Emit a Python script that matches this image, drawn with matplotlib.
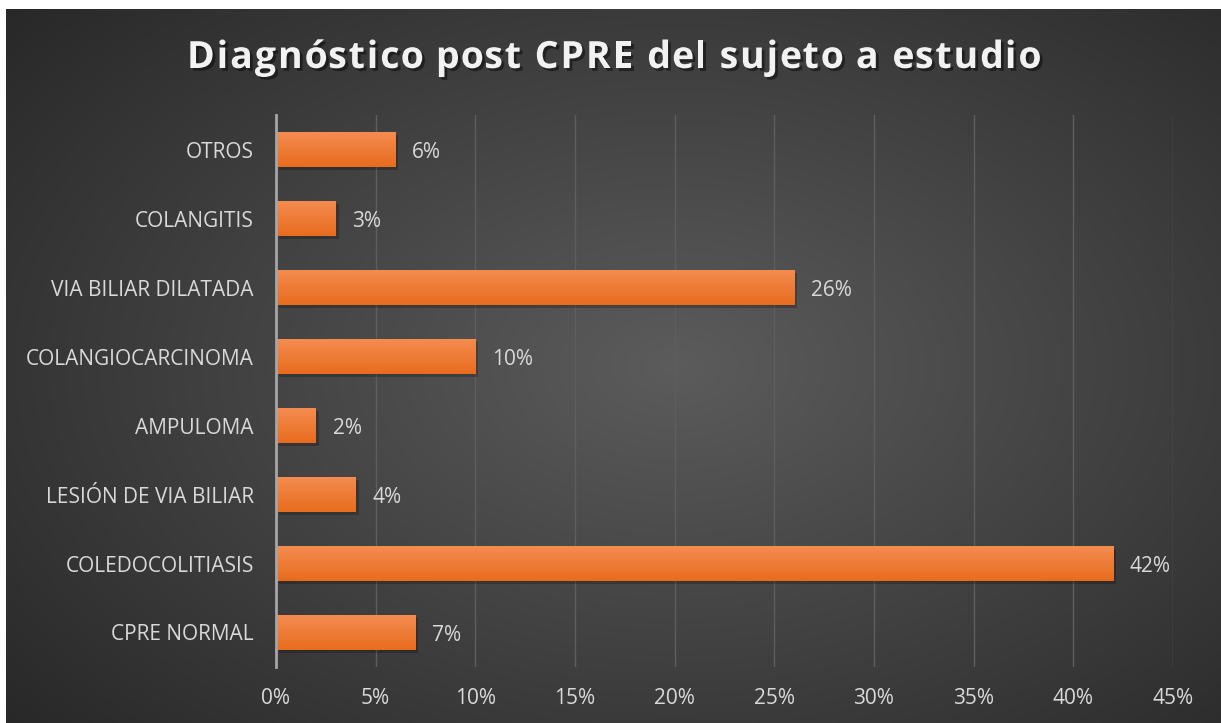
import matplotlib.pyplot as plt
import matplotlib.patheffects as pe
import numpy as np
from matplotlib.ticker import PercentFormatter

# datos
categorias = ["CPRE NORMAL", "COLEDOCOLITIASIS", "LESIÓN DE VIA BILIAR", "AMPULOMA",
              "COLANGIOCARCINOMA", "VIA BILIAR DILATADA", "COLANGITIS", "OTROS"]
valores = [7, 42, 4, 2, 10, 26, 3, 6]
ticks_x = [0, 5, 10, 15, 20, 25, 30, 35, 40, 45]
titulo = "Diagnóstico post CPRE del sujeto a estudio"

plt.rcParams['font.family'] = ['Open Sans', 'DejaVu Sans']

fig = plt.figure(figsize=(12.21, 7.23), dpi=100)
fig.patch.set_facecolor("white")

# fondo con degradado radial
bg = fig.add_axes([6 / 1221, 0, 1 - 6 / 1221, 1 - 9 / 723])
yy, xx = np.mgrid[0:1:300j, 0:1:500j]
r = np.sqrt(((xx - 0.55) / 0.75) ** 2 + ((yy - 0.5) / 0.8) ** 2)
g = 0.36 - 0.21 * np.clip(r, 0, 1)
bg.imshow(np.dstack([g, g, g]), aspect="auto", extent=[0, 1, 0, 1], interpolation="bicubic")
bg.axis("off")

ax = fig.add_axes([276 / 1221, 1 - 667 / 723, (1173 - 276) / 1221, (667 - 115) / 723])
ax.set_facecolor("none")

y = np.arange(len(categorias))
barras = ax.barh(y, valores, height=0.5, color="#F07A2A", zorder=3)

# degradado naranja en cada barra
grad = np.linspace(0, 1, 50)[:, None]
c1 = np.array([0xF4, 0x8C, 0x50]) / 255
c2 = np.array([0xE8, 0x6C, 0x1E]) / 255
grad_img = c1 * (1 - grad[..., None]) + c2 * grad[..., None]
for b in barras:
    b.set_path_effects([pe.SimplePatchShadow(offset=(2, -2), shadow_rgbFace="black", alpha=0.22), pe.Normal()])
    x0, y0, w, h = b.get_x(), b.get_y(), b.get_width(), b.get_height()
    ax.imshow(grad_img, extent=[x0, x0 + w, y0, y0 + h], origin="upper",
              aspect="auto", zorder=3.5, interpolation="bilinear")

for yi, v in zip(y, valores):
    ax.annotate(f"{v}%", (v, yi), xytext=(12, -2), textcoords="offset points",
                va="center", ha="left", color="#D9D9D9", fontsize=15)

ax.set_xlim(0, 45)
ax.set_ylim(-0.5, len(categorias) - 0.5)
ax.set_xticks(ticks_x)
ax.xaxis.set_major_formatter(PercentFormatter(decimals=0))
ax.set_yticks(y)
ax.set_yticklabels(categorias)
ax.tick_params(axis="both", length=0, colors="#D9D9D9", labelsize=15)
ax.tick_params(axis="x", pad=15)
ax.tick_params(axis="y", pad=16)
ax.grid(axis="x", color="#5E5E5E", lw=1, zorder=0)
for s in ["top", "right", "bottom"]:
    ax.spines[s].set_visible(False)
ax.spines["left"].set_color("#A6A6A6")
ax.spines["left"].set_linewidth(2)
ax.spines["left"].set_zorder(4)

# título con espaciado entre letras
fs = 27
renderer = fig.canvas.get_renderer()
def ancho(s):
    t = fig.text(0, 0, s, fontsize=fs, fontweight="bold")
    w = t.get_window_extent(renderer).width
    t.remove()
    return w
base = ancho("xx")
avances = [ancho("x" + c + "x") - base for c in titulo]
total_obj = 853
esp = (total_obj - sum(avances)) / (len(titulo) - 1)
xpix = 187
for c, a in zip(titulo, avances):
    fig.text(xpix / 1221, 1 - 58 / 723, c, ha="left", va="center", color="#F2F2F2",
             fontsize=fs, fontweight="bold",
             path_effects=[pe.withSimplePatchShadow(offset=(2, -2), shadow_rgbFace="black", alpha=0.45)])
    xpix += a + esp

fig.savefig("out.png", dpi=100)
